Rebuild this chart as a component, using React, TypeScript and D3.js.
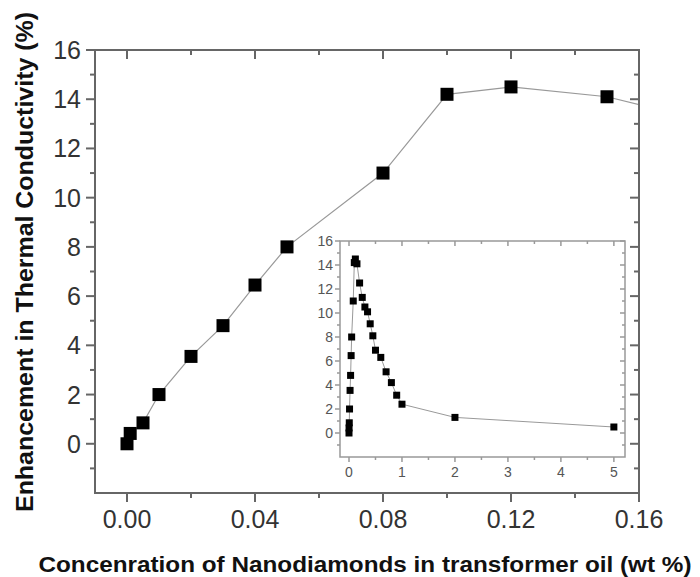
import React from "react";
import * as d3 from "d3";

const mainX = [0, 0.001, 0.005, 0.01, 0.02, 0.03, 0.04, 0.05, 0.08, 0.1, 0.12, 0.15, 0.2];
const mainY = [0, 0.42, 0.85, 2.0, 3.55, 4.8, 6.45, 8.0, 11.0, 14.2, 14.5, 14.1, 12.5];

const insetX = [0, 0.001, 0.005, 0.01, 0.02, 0.03, 0.04, 0.05, 0.08, 0.1, 0.12, 0.15, 0.2, 0.25, 0.3, 0.35, 0.4, 0.45, 0.5, 0.6, 0.7, 0.8, 0.9, 1.0, 2.0, 5.0];
const insetY = [0, 0.42, 0.85, 2.0, 3.55, 4.8, 6.45, 8.0, 11.0, 14.2, 14.5, 14.1, 12.5, 11.3, 10.5, 10.1, 9.1, 8.1, 6.9, 6.3, 5.1, 4.2, 3.15, 2.4, 1.3, 0.5];

const mainXTicks = [0, 0.04, 0.08, 0.12, 0.16];
const mainXMinor = [0.02, 0.06, 0.1, 0.14];
const mainYTicks = [0, 2, 4, 6, 8, 10, 12, 14, 16];
const mainYMinor = [-1, 1, 3, 5, 7, 9, 11, 13, 15];
const insetXTicks = [0, 1, 2, 3, 4, 5];
const insetXMinor = [0.5, 1.5, 2.5, 3.5, 4.5];
const insetYTicks = [0, 2, 4, 6, 8, 10, 12, 14, 16];
const insetYMinor = [-1, 1, 3, 5, 7, 9, 11, 13, 15];

const yTitle = "Enhancement in Thermal Conductivity (%)";
const xTitle = "Concenration of Nanodiamonds in transformer oil (wt %)";

export default function App() {
  const W = 700, H = 577;
  const x = d3.scaleLinear().domain([-0.01, 0.16]).range([95, 639]);
  const y = d3.scaleLinear().domain([-2, 16]).range([493, 50]);
  const xi = d3.scaleLinear().domain([-0.17, 5.21]).range([340, 625]);
  const yi = d3.scaleLinear().domain([-2, 16]).range([457, 241]);

  const mainPts = mainX.map((v, i) => [v, mainY[i]] as [number, number]);
  const insetPts = insetX.map((v, i) => [v, insetY[i]] as [number, number]);

  const mainLine = d3.line<[number, number]>().x(d => x(d[0])).y(d => y(d[1]))(mainPts) || "";
  const insetLine = d3.line<[number, number]>().x(d => xi(d[0])).y(d => yi(d[1]))(insetPts) || "";

  const ax = "#666";
  const iax = "#999";
  const font = "Liberation Sans, Arial, sans-serif";
  const [x0, x1] = x.range();
  const [y0, y1] = y.range();
  const [ix0, ix1] = xi.range();
  const [iy0, iy1] = yi.range();
  const ms = 13;
  const ims = 7;

  return (
    <svg width={W} height={H} style={{ position: "absolute", left: 0, top: 0 }} fontFamily={font}>
      <rect width={W} height={H} fill="#fff" />
      <defs>
        <clipPath id="mainClip">
          <rect x={x0} y={y1} width={x1 - x0} height={y0 - y1} />
        </clipPath>
      </defs>
      <path d={mainLine} fill="none" stroke="#999" strokeWidth={1.2} clipPath="url(#mainClip)" />
      {mainPts.filter(d => d[0] <= 0.16).map((d, i) => (
        <rect key={i} x={x(d[0]) - ms / 2} y={y(d[1]) - ms / 2} width={ms} height={ms} fill="#000" />
      ))}
      <rect x={x0} y={y1} width={x1 - x0} height={y0 - y1} fill="none" stroke={ax} strokeWidth={2} />
      {mainXTicks.map(t => (
        <g key={"mx" + t}>
          <line x1={x(t)} x2={x(t)} y1={y0} y2={y0 + 9} stroke={ax} strokeWidth={2} />
          <line x1={x(t)} x2={x(t)} y1={y1} y2={y1 + 9} stroke={ax} strokeWidth={2} />
          <text x={x(t)} y={528} textAnchor="middle" fontSize={25} fill="#333">{t.toFixed(2)}</text>
        </g>
      ))}
      {mainXMinor.map(t => (
        <g key={"mxm" + t}>
          <line x1={x(t)} x2={x(t)} y1={y0} y2={y0 + 5} stroke={ax} strokeWidth={2} />
          <line x1={x(t)} x2={x(t)} y1={y1} y2={y1 + 5} stroke={ax} strokeWidth={2} />
        </g>
      ))}
      {mainYTicks.map(t => (
        <g key={"my" + t}>
          <line x1={x0 - 9} x2={x0} y1={y(t)} y2={y(t)} stroke={ax} strokeWidth={2} />
          <line x1={x1 - 9} x2={x1} y1={y(t)} y2={y(t)} stroke={ax} strokeWidth={2} />
          <text x={81} y={y(t) + 9} textAnchor="end" fontSize={25} fill="#333">{t}</text>
        </g>
      ))}
      {mainYMinor.map(t => (
        <g key={"mym" + t}>
          <line x1={x0 - 5} x2={x0} y1={y(t)} y2={y(t)} stroke={ax} strokeWidth={2} />
          <line x1={x1 - 5} x2={x1} y1={y(t)} y2={y(t)} stroke={ax} strokeWidth={2} />
        </g>
      ))}
      <text transform={`translate(33,262) rotate(-90)`} textAnchor="middle" fontSize={23} fontWeight="bold" fill="#111"
        textLength={500} lengthAdjust="spacingAndGlyphs">{yTitle}</text>
      <text x={365} y={572} textAnchor="middle" fontSize={22} fontWeight="bold" fill="#111"
        textLength={653} lengthAdjust="spacingAndGlyphs">{xTitle}</text>

      <rect x={ix0} y={iy1} width={ix1 - ix0} height={iy0 - iy1} fill="#fff" />
      <path d={insetLine} fill="none" stroke="#999" strokeWidth={1} />
      {insetPts.map((d, i) => (
        <rect key={"ip" + i} x={xi(d[0]) - ims / 2} y={yi(d[1]) - ims / 2} width={ims} height={ims} fill="#000" />
      ))}
      <rect x={ix0} y={iy1} width={ix1 - ix0} height={iy0 - iy1} fill="none" stroke={iax} strokeWidth={1.5} />
      {insetXTicks.map(t => (
        <g key={"ix" + t}>
          <line x1={xi(t)} x2={xi(t)} y1={iy0} y2={iy0 + 5} stroke={iax} strokeWidth={1.5} />
          <line x1={xi(t)} x2={xi(t)} y1={iy1} y2={iy1 + 5} stroke={iax} strokeWidth={1.5} />
          <text x={xi(t)} y={477} textAnchor="middle" fontSize={14} fill="#555">{t}</text>
        </g>
      ))}
      {insetXMinor.map(t => (
        <g key={"ixm" + t}>
          <line x1={xi(t)} x2={xi(t)} y1={iy0} y2={iy0 + 3} stroke={iax} strokeWidth={1.5} />
          <line x1={xi(t)} x2={xi(t)} y1={iy1} y2={iy1 + 3} stroke={iax} strokeWidth={1.5} />
        </g>
      ))}
      {insetYTicks.map(t => (
        <g key={"iy" + t}>
          <line x1={ix0 - 5} x2={ix0} y1={yi(t)} y2={yi(t)} stroke={iax} strokeWidth={1.5} />
          <line x1={ix1 - 5} x2={ix1} y1={yi(t)} y2={yi(t)} stroke={iax} strokeWidth={1.5} />
          <text x={333} y={yi(t) + 5} textAnchor="end" fontSize={14} fill="#555">{t}</text>
        </g>
      ))}
      {insetYMinor.map(t => (
        <g key={"iym" + t}>
          <line x1={ix0 - 3} x2={ix0} y1={yi(t)} y2={yi(t)} stroke={iax} strokeWidth={1.5} />
          <line x1={ix1 - 3} x2={ix1} y1={yi(t)} y2={yi(t)} stroke={iax} strokeWidth={1.5} />
        </g>
      ))}
    </svg>
  );
}
